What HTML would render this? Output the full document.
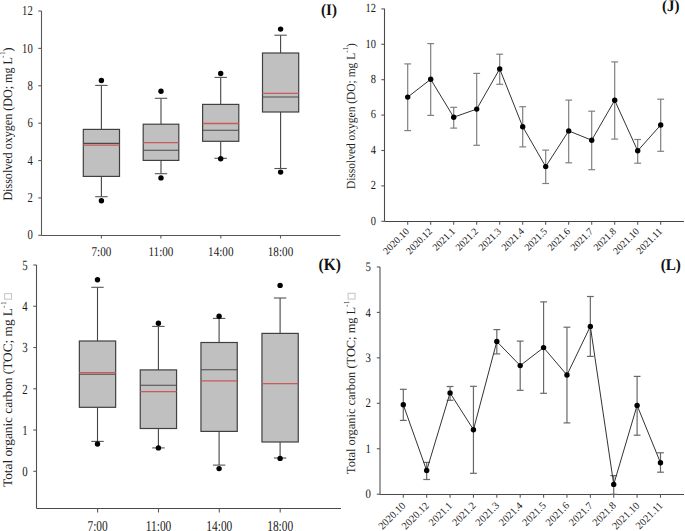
<!DOCTYPE html>
<html><head><meta charset="utf-8"><style>
html,body{margin:0;padding:0;background:#fff;width:685px;height:531px;overflow:hidden}
svg{display:block}

text{font-family:"Liberation Serif", serif;fill:#1a1a1a;text-rendering:geometricPrecision}
.tl{font-size:12px}
.xl{font-size:10px}
.pt{font-size:15.5px;font-weight:bold;fill:#111}
.yt{fill:#222}
.tofu{fill:none;stroke:#c4c4c4;stroke-width:1}
.ax{stroke:#5a5a5a;stroke-width:1.1;fill:none}
.wh{stroke:#444;stroke-width:1.1}
.cap{stroke:#555;stroke-width:1.1}
.box{fill:#c0c0c0;stroke:#404040;stroke-width:1.2}
.med{stroke:#4a4a4a;stroke-width:1.1}
.mean{stroke:#c85a5a;stroke-width:1.3}
.eb{stroke:#808080;stroke-width:1.2;fill:none}
.eb2{stroke:#686868;stroke-width:1.2;fill:none}
.ln{stroke:#333;stroke-width:1;fill:none}
.dot{fill:#000}
</style></head><body>
<div id="w"><svg width="685" height="531" viewBox="0 0 685 531">
<line x1="41.5" y1="11" x2="41.5" y2="235.5" class="ax" style="stroke:#5a5a5a"/>
<line x1="41.5" y1="235.5" x2="340.4" y2="235.5" class="ax" style="stroke:#555"/>
<line x1="38.3" y1="235.3" x2="41.5" y2="235.3" class="ax"/>
<text class="tl" text-anchor="end" transform="translate(32.8 239.49) scale(0.89 1.14)">0</text>
<line x1="38.3" y1="197.92" x2="41.5" y2="197.92" class="ax"/>
<text class="tl" text-anchor="end" transform="translate(32.8 202.11) scale(0.89 1.14)">2</text>
<line x1="38.3" y1="160.54" x2="41.5" y2="160.54" class="ax"/>
<text class="tl" text-anchor="end" transform="translate(32.8 164.73) scale(0.89 1.14)">4</text>
<line x1="38.3" y1="123.16" x2="41.5" y2="123.16" class="ax"/>
<text class="tl" text-anchor="end" transform="translate(32.8 127.35) scale(0.89 1.14)">6</text>
<line x1="38.3" y1="85.78" x2="41.5" y2="85.78" class="ax"/>
<text class="tl" text-anchor="end" transform="translate(32.8 89.97) scale(0.89 1.14)">8</text>
<line x1="38.3" y1="48.4" x2="41.5" y2="48.4" class="ax"/>
<text class="tl" text-anchor="end" transform="translate(32.8 52.59) scale(0.89 1.14)">10</text>
<line x1="38.3" y1="11.02" x2="41.5" y2="11.02" class="ax"/>
<text class="tl" text-anchor="end" transform="translate(32.8 15.21) scale(0.89 1.14)">12</text>
<line x1="101.4" y1="235.5" x2="101.4" y2="238.5" class="ax"/>
<text class="tl" text-anchor="middle" transform="translate(101.4 255.6) scale(0.93 1.1)">7:00</text>
<line x1="160.9" y1="235.5" x2="160.9" y2="238.5" class="ax"/>
<text class="tl" text-anchor="middle" transform="translate(160.9 255.6) scale(0.93 1.1)">11:00</text>
<line x1="220.8" y1="235.5" x2="220.8" y2="238.5" class="ax"/>
<text class="tl" text-anchor="middle" transform="translate(220.8 255.6) scale(0.93 1.1)">14:00</text>
<line x1="280.5" y1="235.5" x2="280.5" y2="238.5" class="ax"/>
<text class="tl" text-anchor="middle" transform="translate(280.5 255.6) scale(0.93 1.1)">18:00</text>
<line x1="101.4" y1="85.4" x2="101.4" y2="129.4" class="wh"/>
<line x1="101.4" y1="176.4" x2="101.4" y2="196.7" class="wh"/>
<line x1="95.2" y1="85.4" x2="107.6" y2="85.4" class="cap"/>
<line x1="95.2" y1="196.7" x2="107.6" y2="196.7" class="cap"/>
<rect x="83.3" y="129.4" width="36.2" height="47" class="box"/>
<line x1="83.3" y1="143.4" x2="119.5" y2="143.4" class="med"/>
<line x1="83.3" y1="145.1" x2="119.5" y2="145.1" class="mean"/>
<circle cx="101.4" cy="80.5" r="2.7" class="dot"/>
<circle cx="101.4" cy="200.8" r="2.7" class="dot"/>
<line x1="161" y1="98.3" x2="161" y2="124.2" class="wh"/>
<line x1="161" y1="160.4" x2="161" y2="173.7" class="wh"/>
<line x1="154.8" y1="98.3" x2="167.2" y2="98.3" class="cap"/>
<line x1="154.8" y1="173.7" x2="167.2" y2="173.7" class="cap"/>
<rect x="143.2" y="124.2" width="35.6" height="36.2" class="box"/>
<line x1="143.2" y1="150.3" x2="178.8" y2="150.3" class="med"/>
<line x1="143.2" y1="142.6" x2="178.8" y2="142.6" class="mean"/>
<circle cx="161" cy="91.3" r="2.7" class="dot"/>
<circle cx="161" cy="177.9" r="2.7" class="dot"/>
<line x1="220.7" y1="77.4" x2="220.7" y2="104.4" class="wh"/>
<line x1="220.7" y1="141.3" x2="220.7" y2="158.3" class="wh"/>
<line x1="214.5" y1="77.4" x2="226.9" y2="77.4" class="cap"/>
<line x1="214.5" y1="158.3" x2="226.9" y2="158.3" class="cap"/>
<rect x="202.6" y="104.4" width="36.2" height="36.9" class="box"/>
<line x1="202.6" y1="130.3" x2="238.8" y2="130.3" class="med"/>
<line x1="202.6" y1="123.5" x2="238.8" y2="123.5" class="mean"/>
<circle cx="220.7" cy="73.5" r="2.7" class="dot"/>
<circle cx="220.7" cy="158.8" r="2.7" class="dot"/>
<line x1="280.6" y1="35.2" x2="280.6" y2="53" class="wh"/>
<line x1="280.6" y1="112" x2="280.6" y2="168.5" class="wh"/>
<line x1="274.4" y1="35.2" x2="286.8" y2="35.2" class="cap"/>
<line x1="274.4" y1="168.5" x2="286.8" y2="168.5" class="cap"/>
<rect x="262.5" y="53" width="36.2" height="59" class="box"/>
<line x1="262.5" y1="97" x2="298.7" y2="97" class="med"/>
<line x1="262.5" y1="93.4" x2="298.7" y2="93.4" class="mean"/>
<circle cx="280.6" cy="29.1" r="2.7" class="dot"/>
<circle cx="280.6" cy="172.1" r="2.7" class="dot"/>
<line x1="36.5" y1="265" x2="36.5" y2="508.5" class="ax" style="stroke:#505050"/>
<line x1="36.5" y1="508.5" x2="341" y2="508.5" class="ax" style="stroke:#4a4a4a"/>
<line x1="33.3" y1="471.3" x2="36.5" y2="471.3" class="ax"/>
<text class="tl" text-anchor="end" transform="translate(27.7 476.21) scale(0.9 1.17)">0</text>
<line x1="33.3" y1="430.04" x2="36.5" y2="430.04" class="ax"/>
<text class="tl" text-anchor="end" transform="translate(27.7 434.95) scale(0.9 1.17)">1</text>
<line x1="33.3" y1="388.78" x2="36.5" y2="388.78" class="ax"/>
<text class="tl" text-anchor="end" transform="translate(27.7 393.69) scale(0.9 1.17)">2</text>
<line x1="33.3" y1="347.52" x2="36.5" y2="347.52" class="ax"/>
<text class="tl" text-anchor="end" transform="translate(27.7 352.43) scale(0.9 1.17)">3</text>
<line x1="33.3" y1="306.26" x2="36.5" y2="306.26" class="ax"/>
<text class="tl" text-anchor="end" transform="translate(27.7 311.17) scale(0.9 1.17)">4</text>
<line x1="33.3" y1="265" x2="36.5" y2="265" class="ax"/>
<text class="tl" text-anchor="end" transform="translate(27.7 269.91) scale(0.9 1.17)">5</text>
<line x1="97.6" y1="508.5" x2="97.6" y2="512.5" class="ax"/>
<text class="tl" text-anchor="middle" transform="translate(97.6 531.3) scale(0.95 1.25)">7:00</text>
<line x1="158.5" y1="508.5" x2="158.5" y2="512.5" class="ax"/>
<text class="tl" text-anchor="middle" transform="translate(158.5 531.3) scale(0.95 1.25)">11:00</text>
<line x1="219.3" y1="508.5" x2="219.3" y2="512.5" class="ax"/>
<text class="tl" text-anchor="middle" transform="translate(219.3 531.3) scale(0.95 1.25)">14:00</text>
<line x1="280.2" y1="508.5" x2="280.2" y2="512.5" class="ax"/>
<text class="tl" text-anchor="middle" transform="translate(280.2 531.3) scale(0.95 1.25)">18:00</text>
<line x1="97.5" y1="287.3" x2="97.5" y2="341" class="wh"/>
<line x1="97.5" y1="407.3" x2="97.5" y2="441.4" class="wh"/>
<line x1="91.3" y1="287.3" x2="103.7" y2="287.3" class="cap"/>
<line x1="91.3" y1="441.4" x2="103.7" y2="441.4" class="cap"/>
<rect x="79.35" y="341" width="36.3" height="66.3" class="box"/>
<line x1="79.35" y1="374.3" x2="115.65" y2="374.3" class="med"/>
<line x1="79.35" y1="372.7" x2="115.65" y2="372.7" class="mean"/>
<circle cx="97.5" cy="279.8" r="2.7" class="dot"/>
<circle cx="97.5" cy="444" r="2.7" class="dot"/>
<line x1="158.4" y1="326.4" x2="158.4" y2="369.9" class="wh"/>
<line x1="158.4" y1="428.5" x2="158.4" y2="447.9" class="wh"/>
<line x1="152.2" y1="326.4" x2="164.6" y2="326.4" class="cap"/>
<line x1="152.2" y1="447.9" x2="164.6" y2="447.9" class="cap"/>
<rect x="140.25" y="369.9" width="36.3" height="58.6" class="box"/>
<line x1="140.25" y1="385.2" x2="176.55" y2="385.2" class="med"/>
<line x1="140.25" y1="391.6" x2="176.55" y2="391.6" class="mean"/>
<circle cx="158.4" cy="323.2" r="2.7" class="dot"/>
<circle cx="158.4" cy="447.9" r="2.7" class="dot"/>
<line x1="219.1" y1="318.4" x2="219.1" y2="342.5" class="wh"/>
<line x1="219.1" y1="431.4" x2="219.1" y2="465.1" class="wh"/>
<line x1="212.9" y1="318.4" x2="225.3" y2="318.4" class="cap"/>
<line x1="212.9" y1="465.1" x2="225.3" y2="465.1" class="cap"/>
<rect x="200.95" y="342.5" width="36.3" height="88.9" class="box"/>
<line x1="200.95" y1="369.8" x2="237.25" y2="369.8" class="med"/>
<line x1="200.95" y1="380.9" x2="237.25" y2="380.9" class="mean"/>
<circle cx="219.1" cy="316.2" r="2.7" class="dot"/>
<circle cx="219.1" cy="468.6" r="2.7" class="dot"/>
<line x1="280.1" y1="298" x2="280.1" y2="333.4" class="wh"/>
<line x1="280.1" y1="442" x2="280.1" y2="458" class="wh"/>
<line x1="273.9" y1="298" x2="286.3" y2="298" class="cap"/>
<line x1="273.9" y1="458" x2="286.3" y2="458" class="cap"/>
<rect x="261.95" y="333.4" width="36.3" height="108.6" class="box"/>
<line x1="261.95" y1="383.6" x2="298.25" y2="383.6" class="mean"/>
<circle cx="280.1" cy="285.4" r="2.7" class="dot"/>
<circle cx="280.1" cy="458.4" r="2.7" class="dot"/>
<line x1="384.5" y1="8.7" x2="384.5" y2="221.5" class="ax" style="stroke:#4a4a4a"/>
<line x1="384.5" y1="221.5" x2="683.9" y2="221.5" class="ax" style="stroke:#444"/>
<line x1="381.3" y1="221.3" x2="384.5" y2="221.3" class="ax"/>
<text class="tl" text-anchor="end" transform="translate(376 224.68) scale(0.87 1.03)">0</text>
<line x1="381.3" y1="185.9" x2="384.5" y2="185.9" class="ax"/>
<text class="tl" text-anchor="end" transform="translate(376 189.28) scale(0.87 1.03)">2</text>
<line x1="381.3" y1="150.5" x2="384.5" y2="150.5" class="ax"/>
<text class="tl" text-anchor="end" transform="translate(376 153.88) scale(0.87 1.03)">4</text>
<line x1="381.3" y1="115.1" x2="384.5" y2="115.1" class="ax"/>
<text class="tl" text-anchor="end" transform="translate(376 118.48) scale(0.87 1.03)">6</text>
<line x1="381.3" y1="79.7" x2="384.5" y2="79.7" class="ax"/>
<text class="tl" text-anchor="end" transform="translate(376 83.08) scale(0.87 1.03)">8</text>
<line x1="381.3" y1="44.3" x2="384.5" y2="44.3" class="ax"/>
<text class="tl" text-anchor="end" transform="translate(376 47.68) scale(0.87 1.03)">10</text>
<line x1="381.3" y1="8.9" x2="384.5" y2="8.9" class="ax"/>
<text class="tl" text-anchor="end" transform="translate(376 12.28) scale(0.87 1.03)">12</text>
<line x1="407.7" y1="221.5" x2="407.7" y2="224.7" class="ax"/>
<text x="409.9" y="231.9" class="xl" style="font-size:10px" text-anchor="end" transform="rotate(-45 409.9 231.9)">2020.10</text>
<line x1="430.7" y1="221.5" x2="430.7" y2="224.7" class="ax"/>
<text x="432.9" y="231.9" class="xl" style="font-size:10px" text-anchor="end" transform="rotate(-45 432.9 231.9)">2020.12</text>
<line x1="453.7" y1="221.5" x2="453.7" y2="224.7" class="ax"/>
<text x="455.9" y="231.9" class="xl" style="font-size:10px" text-anchor="end" transform="rotate(-45 455.9 231.9)">2021.1</text>
<line x1="476.7" y1="221.5" x2="476.7" y2="224.7" class="ax"/>
<text x="478.9" y="231.9" class="xl" style="font-size:10px" text-anchor="end" transform="rotate(-45 478.9 231.9)">2021.2</text>
<line x1="499.7" y1="221.5" x2="499.7" y2="224.7" class="ax"/>
<text x="501.9" y="231.9" class="xl" style="font-size:10px" text-anchor="end" transform="rotate(-45 501.9 231.9)">2021.3</text>
<line x1="522.7" y1="221.5" x2="522.7" y2="224.7" class="ax"/>
<text x="524.9" y="231.9" class="xl" style="font-size:10px" text-anchor="end" transform="rotate(-45 524.9 231.9)">2021.4</text>
<line x1="545.7" y1="221.5" x2="545.7" y2="224.7" class="ax"/>
<text x="547.9" y="231.9" class="xl" style="font-size:10px" text-anchor="end" transform="rotate(-45 547.9 231.9)">2021.5</text>
<line x1="568.7" y1="221.5" x2="568.7" y2="224.7" class="ax"/>
<text x="570.9" y="231.9" class="xl" style="font-size:10px" text-anchor="end" transform="rotate(-45 570.9 231.9)">2021.6</text>
<line x1="591.7" y1="221.5" x2="591.7" y2="224.7" class="ax"/>
<text x="593.9" y="231.9" class="xl" style="font-size:10px" text-anchor="end" transform="rotate(-45 593.9 231.9)">2021.7</text>
<line x1="614.7" y1="221.5" x2="614.7" y2="224.7" class="ax"/>
<text x="616.9" y="231.9" class="xl" style="font-size:10px" text-anchor="end" transform="rotate(-45 616.9 231.9)">2021.8</text>
<line x1="637.7" y1="221.5" x2="637.7" y2="224.7" class="ax"/>
<text x="639.9" y="231.9" class="xl" style="font-size:10px" text-anchor="end" transform="rotate(-45 639.9 231.9)">2021.10</text>
<line x1="660.7" y1="221.5" x2="660.7" y2="224.7" class="ax"/>
<text x="662.9" y="231.9" class="xl" style="font-size:10px" text-anchor="end" transform="rotate(-45 662.9 231.9)">2021.11</text>
<line x1="407.7" y1="63.9" x2="407.7" y2="130.6" class="eb"/>
<line x1="404.3" y1="63.9" x2="411.1" y2="63.9" class="eb"/>
<line x1="404.3" y1="130.6" x2="411.1" y2="130.6" class="eb"/>
<line x1="430.7" y1="43.6" x2="430.7" y2="115.4" class="eb"/>
<line x1="427.3" y1="43.6" x2="434.1" y2="43.6" class="eb"/>
<line x1="427.3" y1="115.4" x2="434.1" y2="115.4" class="eb"/>
<line x1="453.7" y1="107.3" x2="453.7" y2="128.1" class="eb"/>
<line x1="450.3" y1="107.3" x2="457.1" y2="107.3" class="eb"/>
<line x1="450.3" y1="128.1" x2="457.1" y2="128.1" class="eb"/>
<line x1="476.7" y1="73.4" x2="476.7" y2="145.3" class="eb"/>
<line x1="473.3" y1="73.4" x2="480.1" y2="73.4" class="eb"/>
<line x1="473.3" y1="145.3" x2="480.1" y2="145.3" class="eb"/>
<line x1="499.7" y1="54.2" x2="499.7" y2="84.3" class="eb"/>
<line x1="496.3" y1="54.2" x2="503.1" y2="54.2" class="eb"/>
<line x1="496.3" y1="84.3" x2="503.1" y2="84.3" class="eb"/>
<line x1="522.7" y1="106.7" x2="522.7" y2="146.9" class="eb"/>
<line x1="519.3" y1="106.7" x2="526.1" y2="106.7" class="eb"/>
<line x1="519.3" y1="146.9" x2="526.1" y2="146.9" class="eb"/>
<line x1="545.7" y1="150.1" x2="545.7" y2="183.5" class="eb"/>
<line x1="542.3" y1="150.1" x2="549.1" y2="150.1" class="eb"/>
<line x1="542.3" y1="183.5" x2="549.1" y2="183.5" class="eb"/>
<line x1="568.7" y1="100.1" x2="568.7" y2="162.8" class="eb"/>
<line x1="565.3" y1="100.1" x2="572.1" y2="100.1" class="eb"/>
<line x1="565.3" y1="162.8" x2="572.1" y2="162.8" class="eb"/>
<line x1="591.7" y1="111.2" x2="591.7" y2="169.7" class="eb"/>
<line x1="588.3" y1="111.2" x2="595.1" y2="111.2" class="eb"/>
<line x1="588.3" y1="169.7" x2="595.1" y2="169.7" class="eb"/>
<line x1="614.7" y1="61.9" x2="614.7" y2="139.1" class="eb"/>
<line x1="611.3" y1="61.9" x2="618.1" y2="61.9" class="eb"/>
<line x1="611.3" y1="139.1" x2="618.1" y2="139.1" class="eb"/>
<line x1="637.7" y1="139.5" x2="637.7" y2="163.2" class="eb"/>
<line x1="634.3" y1="139.5" x2="641.1" y2="139.5" class="eb"/>
<line x1="634.3" y1="163.2" x2="641.1" y2="163.2" class="eb"/>
<line x1="660.7" y1="99.2" x2="660.7" y2="151.3" class="eb"/>
<line x1="657.3" y1="99.2" x2="664.1" y2="99.2" class="eb"/>
<line x1="657.3" y1="151.3" x2="664.1" y2="151.3" class="eb"/>
<path d="M407.7,97.1 L430.7,79.3 L453.7,117.2 L476.7,109.1 L499.7,68.9 L522.7,126.7 L545.7,166.6 L568.7,130.9 L591.7,140.2 L614.7,100.3 L637.7,150.8 L660.7,125" class="ln"/>
<circle cx="407.7" cy="97.1" r="2.7" class="dot"/>
<circle cx="430.7" cy="79.3" r="2.7" class="dot"/>
<circle cx="453.7" cy="117.2" r="2.7" class="dot"/>
<circle cx="476.7" cy="109.1" r="2.7" class="dot"/>
<circle cx="499.7" cy="68.9" r="2.7" class="dot"/>
<circle cx="522.7" cy="126.7" r="2.7" class="dot"/>
<circle cx="545.7" cy="166.6" r="2.7" class="dot"/>
<circle cx="568.7" cy="130.9" r="2.7" class="dot"/>
<circle cx="591.7" cy="140.2" r="2.7" class="dot"/>
<circle cx="614.7" cy="100.3" r="2.7" class="dot"/>
<circle cx="637.7" cy="150.8" r="2.7" class="dot"/>
<circle cx="660.7" cy="125" r="2.7" class="dot"/>
<line x1="380" y1="266.9" x2="380" y2="494.5" class="ax" style="stroke:#a0a0a0;stroke-width:2"/>
<line x1="380" y1="494.5" x2="684" y2="494.5" class="ax" style="stroke:#4a4a4a"/>
<line x1="376.8" y1="494.2" x2="380" y2="494.2" class="ax"/>
<text class="tl" text-anchor="end" transform="translate(370.9 498.39) scale(0.9 1.07)">0</text>
<line x1="376.8" y1="448.75" x2="380" y2="448.75" class="ax"/>
<text class="tl" text-anchor="end" transform="translate(370.9 452.94) scale(0.9 1.07)">1</text>
<line x1="376.8" y1="403.3" x2="380" y2="403.3" class="ax"/>
<text class="tl" text-anchor="end" transform="translate(370.9 407.49) scale(0.9 1.07)">2</text>
<line x1="376.8" y1="357.85" x2="380" y2="357.85" class="ax"/>
<text class="tl" text-anchor="end" transform="translate(370.9 362.04) scale(0.9 1.07)">3</text>
<line x1="376.8" y1="312.4" x2="380" y2="312.4" class="ax"/>
<text class="tl" text-anchor="end" transform="translate(370.9 316.59) scale(0.9 1.07)">4</text>
<line x1="376.8" y1="266.95" x2="380" y2="266.95" class="ax"/>
<text class="tl" text-anchor="end" transform="translate(370.9 271.14) scale(0.9 1.07)">5</text>
<line x1="403.3" y1="494.5" x2="403.3" y2="497.7" class="ax"/>
<text x="406.3" y="506.2" class="xl" style="font-size:10.4px" text-anchor="end" transform="rotate(-45 406.3 506.2)">2020.10</text>
<line x1="426.68" y1="494.5" x2="426.68" y2="497.7" class="ax"/>
<text x="429.68" y="506.2" class="xl" style="font-size:10.4px" text-anchor="end" transform="rotate(-45 429.68 506.2)">2020.12</text>
<line x1="450.06" y1="494.5" x2="450.06" y2="497.7" class="ax"/>
<text x="453.06" y="506.2" class="xl" style="font-size:10.4px" text-anchor="end" transform="rotate(-45 453.06 506.2)">2021.1</text>
<line x1="473.44" y1="494.5" x2="473.44" y2="497.7" class="ax"/>
<text x="476.44" y="506.2" class="xl" style="font-size:10.4px" text-anchor="end" transform="rotate(-45 476.44 506.2)">2021.2</text>
<line x1="496.82" y1="494.5" x2="496.82" y2="497.7" class="ax"/>
<text x="499.82" y="506.2" class="xl" style="font-size:10.4px" text-anchor="end" transform="rotate(-45 499.82 506.2)">2021.3</text>
<line x1="520.2" y1="494.5" x2="520.2" y2="497.7" class="ax"/>
<text x="523.2" y="506.2" class="xl" style="font-size:10.4px" text-anchor="end" transform="rotate(-45 523.2 506.2)">2021.4</text>
<line x1="543.58" y1="494.5" x2="543.58" y2="497.7" class="ax"/>
<text x="546.58" y="506.2" class="xl" style="font-size:10.4px" text-anchor="end" transform="rotate(-45 546.58 506.2)">2021.5</text>
<line x1="566.96" y1="494.5" x2="566.96" y2="497.7" class="ax"/>
<text x="569.96" y="506.2" class="xl" style="font-size:10.4px" text-anchor="end" transform="rotate(-45 569.96 506.2)">2021.6</text>
<line x1="590.34" y1="494.5" x2="590.34" y2="497.7" class="ax"/>
<text x="593.34" y="506.2" class="xl" style="font-size:10.4px" text-anchor="end" transform="rotate(-45 593.34 506.2)">2021.7</text>
<line x1="613.72" y1="494.5" x2="613.72" y2="497.7" class="ax"/>
<text x="616.72" y="506.2" class="xl" style="font-size:10.4px" text-anchor="end" transform="rotate(-45 616.72 506.2)">2021.8</text>
<line x1="637.1" y1="494.5" x2="637.1" y2="497.7" class="ax"/>
<text x="640.1" y="506.2" class="xl" style="font-size:10.4px" text-anchor="end" transform="rotate(-45 640.1 506.2)">2021.10</text>
<line x1="660.48" y1="494.5" x2="660.48" y2="497.7" class="ax"/>
<text x="663.48" y="506.2" class="xl" style="font-size:10.4px" text-anchor="end" transform="rotate(-45 663.48 506.2)">2021.11</text>
<line x1="403.3" y1="389.3" x2="403.3" y2="420.4" class="eb2"/>
<line x1="399.9" y1="389.3" x2="406.7" y2="389.3" class="eb2"/>
<line x1="399.9" y1="420.4" x2="406.7" y2="420.4" class="eb2"/>
<line x1="426.68" y1="462.4" x2="426.68" y2="479.5" class="eb2"/>
<line x1="423.28" y1="462.4" x2="430.08" y2="462.4" class="eb2"/>
<line x1="423.28" y1="479.5" x2="430.08" y2="479.5" class="eb2"/>
<line x1="450.06" y1="386.5" x2="450.06" y2="400.3" class="eb2"/>
<line x1="446.66" y1="386.5" x2="453.46" y2="386.5" class="eb2"/>
<line x1="446.66" y1="400.3" x2="453.46" y2="400.3" class="eb2"/>
<line x1="473.44" y1="386.3" x2="473.44" y2="473.3" class="eb2"/>
<line x1="470.04" y1="386.3" x2="476.84" y2="386.3" class="eb2"/>
<line x1="470.04" y1="473.3" x2="476.84" y2="473.3" class="eb2"/>
<line x1="496.82" y1="329.6" x2="496.82" y2="353.9" class="eb2"/>
<line x1="493.42" y1="329.6" x2="500.22" y2="329.6" class="eb2"/>
<line x1="493.42" y1="353.9" x2="500.22" y2="353.9" class="eb2"/>
<line x1="520.2" y1="341.1" x2="520.2" y2="390.3" class="eb2"/>
<line x1="516.8" y1="341.1" x2="523.6" y2="341.1" class="eb2"/>
<line x1="516.8" y1="390.3" x2="523.6" y2="390.3" class="eb2"/>
<line x1="543.58" y1="301.9" x2="543.58" y2="393.3" class="eb2"/>
<line x1="540.18" y1="301.9" x2="546.98" y2="301.9" class="eb2"/>
<line x1="540.18" y1="393.3" x2="546.98" y2="393.3" class="eb2"/>
<line x1="566.96" y1="327.2" x2="566.96" y2="422.9" class="eb2"/>
<line x1="563.56" y1="327.2" x2="570.36" y2="327.2" class="eb2"/>
<line x1="563.56" y1="422.9" x2="570.36" y2="422.9" class="eb2"/>
<line x1="590.34" y1="296.5" x2="590.34" y2="356.4" class="eb2"/>
<line x1="586.94" y1="296.5" x2="593.74" y2="296.5" class="eb2"/>
<line x1="586.94" y1="356.4" x2="593.74" y2="356.4" class="eb2"/>
<line x1="613.72" y1="475.6" x2="613.72" y2="494.3" class="eb2"/>
<line x1="610.32" y1="475.6" x2="617.12" y2="475.6" class="eb2"/>
<line x1="610.32" y1="494.3" x2="617.12" y2="494.3" class="eb2"/>
<line x1="637.1" y1="376.4" x2="637.1" y2="435.2" class="eb2"/>
<line x1="633.7" y1="376.4" x2="640.5" y2="376.4" class="eb2"/>
<line x1="633.7" y1="435.2" x2="640.5" y2="435.2" class="eb2"/>
<line x1="660.48" y1="452.8" x2="660.48" y2="472.2" class="eb2"/>
<line x1="657.08" y1="452.8" x2="663.88" y2="452.8" class="eb2"/>
<line x1="657.08" y1="472.2" x2="663.88" y2="472.2" class="eb2"/>
<path d="M403.3,404.8 L426.68,470.5 L450.06,392.9 L473.44,429.7 L496.82,341.5 L520.2,365.6 L543.58,347.6 L566.96,375 L590.34,326.4 L613.72,484.4 L637.1,405.4 L660.48,462.7" class="ln"/>
<circle cx="403.3" cy="404.8" r="2.7" class="dot"/>
<circle cx="426.68" cy="470.5" r="2.7" class="dot"/>
<circle cx="450.06" cy="392.9" r="2.7" class="dot"/>
<circle cx="473.44" cy="429.7" r="2.7" class="dot"/>
<circle cx="496.82" cy="341.5" r="2.7" class="dot"/>
<circle cx="520.2" cy="365.6" r="2.7" class="dot"/>
<circle cx="543.58" cy="347.6" r="2.7" class="dot"/>
<circle cx="566.96" cy="375" r="2.7" class="dot"/>
<circle cx="590.34" cy="326.4" r="2.7" class="dot"/>
<circle cx="613.72" cy="484.4" r="2.7" class="dot"/>
<circle cx="637.1" cy="405.4" r="2.7" class="dot"/>
<circle cx="660.48" cy="462.7" r="2.7" class="dot"/>
<text class="pt" text-anchor="end" transform="translate(336.9 14.9) scale(0.97 1.04)">(I)</text>
<text class="pt" text-anchor="end" transform="translate(679.6 11) scale(0.97 1.03)">(J)</text>
<text class="pt" text-anchor="end" transform="translate(341 269.9) scale(1.0 1.1)">(K)</text>
<text class="pt" text-anchor="end" transform="translate(680.9 269.9) scale(0.98 1.05)">(L)</text>
<text x="12" y="200.6" class="yt" style="font-size:13px" text-anchor="start" textLength="143.4" lengthAdjust="spacingAndGlyphs" transform="rotate(-90 12 200.6)">Dissolved oxygen (DO; mg L</text>
<text x="5.4" y="56.7" class="yt" style="font-size:7.5px" text-anchor="middle" transform="rotate(-90 5.4 56.7)">-</text>
<text x="5.4" y="53.2" class="yt" style="font-size:7.5px" text-anchor="middle" transform="rotate(-90 5.4 53.2)">1</text>
<text x="12" y="49.6" class="yt" style="font-size:13px" text-anchor="middle" transform="rotate(-90 12 49.6)">)</text>
<text x="354.7" y="189.1" class="yt" style="font-size:12.4px" text-anchor="start" textLength="136.3" lengthAdjust="spacingAndGlyphs" transform="rotate(-90 354.7 189.1)">Dissolved oxygen (DO; mg L</text>
<text x="348.5" y="51.5" class="yt" style="font-size:7.5px" text-anchor="middle" transform="rotate(-90 348.5 51.5)">-</text>
<text x="348.5" y="48.6" class="yt" style="font-size:7.5px" text-anchor="middle" transform="rotate(-90 348.5 48.6)">1</text>
<text x="354.7" y="45.2" class="yt" style="font-size:12.4px" text-anchor="middle" transform="rotate(-90 354.7 45.2)">)</text>
<text x="12.2" y="487" class="yt" style="font-size:13px" text-anchor="start" textLength="179" lengthAdjust="spacingAndGlyphs" transform="rotate(-90 12.2 487)">Total organic carbon (TOC; mg L</text>
<text x="5.6" y="306.8" class="yt" style="font-size:7.5px" text-anchor="middle" transform="rotate(-90 5.6 306.8)">-</text>
<text x="5.6" y="303.2" class="yt" style="font-size:7.5px" text-anchor="middle" transform="rotate(-90 5.6 303.2)">1</text>
<text x="355.1" y="473.9" class="yt" style="font-size:12.4px" text-anchor="start" textLength="167.1" lengthAdjust="spacingAndGlyphs" transform="rotate(-90 355.1 473.9)">Total organic carbon (TOC; mg L</text>
<text x="348.8" y="305.8" class="yt" style="font-size:7.5px" text-anchor="middle" transform="rotate(-90 348.8 305.8)">-</text>
<text x="348.8" y="302.3" class="yt" style="font-size:7.5px" text-anchor="middle" transform="rotate(-90 348.8 302.3)">1</text>
<rect x="4.6" y="293.6" width="6.9" height="5.6" class="tofu"/>
<rect x="348.1" y="293.3" width="6.9" height="5.8" class="tofu"/>
</svg></div>
</body></html>
